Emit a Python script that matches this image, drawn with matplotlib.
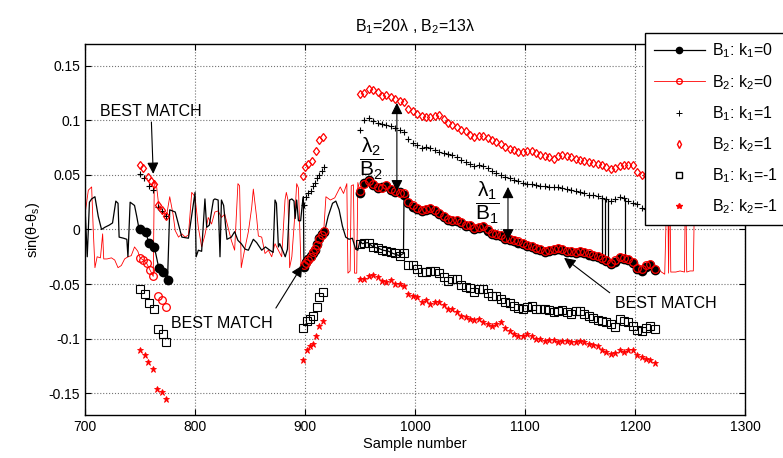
import numpy as np
import matplotlib.pyplot as plt
from matplotlib.lines import Line2D

plt.rcParams['font.family'] = ['Liberation Sans', 'DejaVu Sans']
plt.rcParams['mathtext.fontset'] = 'custom'
plt.rcParams['mathtext.rm'] = 'Liberation Sans'
plt.rcParams['mathtext.it'] = 'Liberation Sans:italic'
plt.rcParams['mathtext.bf'] = 'Liberation Sans:bold'
plt.rcParams['mathtext.default'] = 'regular'

# ---- main stretch (950..1218, every 4 samples) ----
s_main = list(range(950, 1219, 4))
b1_k0_main = [0.033, 0.043, 0.045, 0.041, 0.038, 0.039, 0.040, 0.036, 0.034, 0.034,
              0.032, 0.024, 0.021, 0.019, 0.017, 0.018, 0.019, 0.017, 0.014, 0.011,
              0.009, 0.008, 0.008, 0.006, 0.003, 0.003, 0.000, 0.001, 0.002, -0.001,
              -0.004, -0.005, -0.006, -0.009, -0.010, -0.011, -0.012, -0.013, -0.015, -0.016,
              -0.018, -0.019, -0.021, -0.020, -0.019, -0.018, -0.019, -0.021, -0.021, -0.022,
              -0.021, -0.022, -0.023, -0.024, -0.025, -0.027, -0.029, -0.032, -0.030, -0.026,
              -0.027, -0.028, -0.031, -0.036, -0.038, -0.034, -0.033, -0.037]
b2_k0_main = [0.035, 0.042, 0.044, 0.042, 0.039, 0.038, 0.041, 0.037, 0.035, 0.033,
              0.033, 0.025, 0.022, 0.020, 0.018, 0.019, 0.020, 0.018, 0.015, 0.012,
              0.010, 0.009, 0.009, 0.007, 0.004, 0.004, 0.001, 0.002, 0.003, 0.000,
              -0.003, -0.004, -0.005, -0.008, -0.009, -0.010, -0.011, -0.012, -0.014, -0.015,
              -0.017, -0.018, -0.020, -0.019, -0.018, -0.017, -0.018, -0.020, -0.020, -0.021,
              -0.020, -0.021, -0.022, -0.023, -0.024, -0.026, -0.028, -0.031, -0.028, -0.025,
              -0.026, -0.027, -0.030, -0.035, -0.036, -0.033, -0.032, -0.036]
b1_k1_main = [0.091, 0.100, 0.102, 0.099, 0.098, 0.097, 0.096, 0.095, 0.093, 0.091,
              0.089, 0.083, 0.079, 0.077, 0.075, 0.076, 0.075, 0.073, 0.071, 0.070,
              0.069, 0.068, 0.066, 0.064, 0.062, 0.060, 0.058, 0.059, 0.058, 0.056,
              0.054, 0.052, 0.050, 0.048, 0.047, 0.045, 0.044, 0.043, 0.042, 0.042,
              0.041, 0.040, 0.040, 0.039, 0.039, 0.039, 0.038, 0.037, 0.036, 0.035,
              0.034, 0.033, 0.032, 0.032, 0.031, 0.029, 0.028, 0.026, 0.028, 0.030,
              0.029, 0.026, 0.024, 0.023, 0.020, 0.019, 0.017, 0.014]
b2_k1_main = [0.124, 0.125, 0.129, 0.1275, 0.126, 0.122, 0.123, 0.121, 0.120, 0.118,
              0.117, 0.110, 0.1085, 0.106, 0.104, 0.103, 0.103, 0.104, 0.1045, 0.101,
              0.098, 0.096, 0.094, 0.091, 0.090, 0.087, 0.085, 0.086, 0.086, 0.084,
              0.082, 0.080, 0.078, 0.076, 0.074, 0.073, 0.071, 0.071, 0.072, 0.072,
              0.070, 0.068, 0.067, 0.066, 0.065, 0.067, 0.068, 0.067, 0.066, 0.065,
              0.064, 0.063, 0.062, 0.061, 0.060, 0.059, 0.057, 0.055, 0.056, 0.058,
              0.059, 0.059, 0.059, 0.053, 0.050, 0.050, 0.049, 0.047]
b1_km1_main = [-0.013, -0.012, -0.012, -0.016, -0.017, -0.019, -0.020, -0.021, -0.022, -0.024,
               -0.022, -0.033, -0.033, -0.036, -0.039, -0.039, -0.038, -0.038, -0.040, -0.044,
               -0.047, -0.045, -0.045, -0.051, -0.053, -0.054, -0.057, -0.055, -0.055, -0.058,
               -0.061, -0.061, -0.064, -0.066, -0.067, -0.070, -0.072, -0.073, -0.071, -0.070,
               -0.073, -0.073, -0.073, -0.074, -0.076, -0.075, -0.074, -0.076, -0.077, -0.075,
               -0.075, -0.077, -0.079, -0.081, -0.083, -0.084, -0.085, -0.087, -0.089, -0.082,
               -0.084, -0.085, -0.088, -0.092, -0.093, -0.090, -0.088, -0.091]
b2_km1_main = [-0.045, -0.045, -0.043, -0.042, -0.044, -0.047, -0.048, -0.046, -0.050, -0.050,
               -0.052, -0.059, -0.061, -0.062, -0.066, -0.065, -0.068, -0.066, -0.066, -0.069,
               -0.073, -0.073, -0.076, -0.079, -0.080, -0.082, -0.083, -0.082, -0.085, -0.087,
               -0.088, -0.087, -0.085, -0.090, -0.093, -0.096, -0.098, -0.098, -0.096, -0.098,
               -0.100, -0.100, -0.102, -0.101, -0.101, -0.103, -0.102, -0.102, -0.103, -0.103,
               -0.102, -0.103, -0.105, -0.106, -0.107, -0.110, -0.112, -0.114, -0.113, -0.110,
               -0.112, -0.110, -0.110, -0.115, -0.117, -0.119, -0.120, -0.122]

# ---- early clusters (around 750-775 and 898-917) ----
b1_k0_s1 = [750, 755, 758, 763, 767, 771, 775]
b1_k0_v1 = [0.0, -0.002, -0.012, -0.016, -0.035, -0.039, -0.046]
b2_k0_s1 = [750, 753, 756, 759, 762, 766, 770, 774]
b2_k0_v1 = [-0.026, -0.028, -0.031, -0.037, -0.043, -0.061, -0.065, -0.071]
clu2_s = [899, 901, 903, 905, 907, 909, 911, 913, 915, 917]
b1_k0_v2 = [-0.034, -0.030, -0.027, -0.024, -0.022, -0.019, -0.013, -0.008, -0.004, -0.002]
b2_k0_v2 = [-0.033, -0.031, -0.028, -0.025, -0.021, -0.018, -0.014, -0.009, -0.005, -0.001]
b1_k1_s1 = [750, 754, 758, 762, 766, 770, 774]
b1_k1_v1 = [0.051, 0.047, 0.040, 0.036, 0.021, 0.017, 0.012]
b1_k1_v2 = [0.022, 0.030, 0.033, 0.035, 0.040, 0.043, 0.047, 0.050, 0.054, 0.057]
b2_k1_s1 = [750, 753, 757, 760, 763, 766, 770, 774]
b2_k1_v1 = [0.059, 0.056, 0.048, 0.044, 0.042, 0.022, 0.018, 0.012]
b2_k1_s2 = [898, 900, 903, 906, 910, 913, 916]
b2_k1_v2 = [0.049, 0.057, 0.060, 0.063, 0.072, 0.082, 0.085]
b1_km1_s1 = [750, 754.5, 758, 762.7, 766.7, 770.6, 774]
b1_km1_v1 = [-0.055, -0.059, -0.067, -0.073, -0.091, -0.096, -0.103]
b1_km1_s2 = [898, 901.5, 904.5, 907, 910.6, 913, 916]
b1_km1_v2 = [-0.090, -0.084, -0.082, -0.079, -0.071, -0.062, -0.057]
b2_km1_s1 = [750, 754.5, 757.5, 762, 765.8, 769.7, 773.6]
b2_km1_v1 = [-0.110, -0.115, -0.121, -0.128, -0.146, -0.149, -0.155]
b2_km1_s2 = [898, 901.5, 904.5, 907, 910, 912.5, 916]
b2_km1_v2 = [-0.120, -0.110, -0.107, -0.105, -0.098, -0.088, -0.084]

# ---- raw estimate lines before the main stretch ----
b1_pre_s = [700, 702, 704, 706, 709, 712, 715, 718, 722, 725, 728, 730, 731, 735, 738, 739,
            741, 745, 747, 749] + b1_k0_s1 + \
           [777, 782, 788, 794, 798, 800, 801, 803, 806, 809, 810.6, 813, 816.7, 818, 821,
            822.7, 824, 826, 829, 833, 836, 839, 842, 845.5, 848.5, 853, 856, 860.6, 864,
            868, 871, 872.7, 874, 875.8, 877, 880, 882, 884, 886, 888, 890, 891, 892.4, 894,
            896, 897.6, 898.5] + clu2_s + \
           [918, 921, 925, 928, 931, 934, 937, 940, 943, 946, 948, 950, 952, 957, 962, 966,
            971, 976, 980, 986, 989.5]
b1_pre_v = [0.020, -0.025, 0.025, 0.028, 0.030, 0.012, 0.000, 0.002, 0.004, 0.006, 0.026,
            0.024, -0.007, -0.008, -0.009, -0.025, 0.025, 0.022, 0.012, 0.001] + b1_k0_v1 + \
           [0.018, 0.016, -0.007, -0.008, 0.020, 0.034, -0.025, -0.019, -0.020, 0.028, 0.002,
            0.004, 0.027, 0.028, 0.027, -0.025, 0.027, 0.022, -0.009, -0.007, -0.002, -0.010,
            -0.013, -0.018, -0.019, -0.009, -0.012, -0.019, -0.016, -0.019, -0.021, 0.027,
            0.024, -0.016, -0.013, -0.020, -0.025, -0.018, 0.027, 0.028, 0.026, 0.010, 0.027,
            0.008, 0.008, 0.024, 0.030] + b1_k0_v2 + \
           [-0.001, 0.012, 0.024, 0.026, 0.018, 0.003, -0.007, -0.009, -0.008, -0.018, -0.019,
            -0.010, -0.013, -0.012, -0.016, -0.017, -0.019, -0.020, -0.022, -0.024, -0.022]
b1_spike_s = [1170, 1173, 1175, 1191]
b1_spike_lo = [-0.027, -0.029, -0.029, -0.027]
b1_spike_hi = [0.029, 0.028, 0.028, 0.029]

b2_pre_s = [700, 703, 706, 707.5, 709, 711, 714, 716, 717, 720, 724, 727, 730, 733, 736,
            739, 742, 745, 748] + b2_k0_s1[:5] + \
           [763, 765, 767, 770, 774, 777, 780, 782, 785, 788, 791, 794, 797, 800, 803, 806,
            809, 812, 815, 818, 821, 824, 827, 830, 833, 836, 839, 840.5, 842, 845, 848.5,
            851.5, 853, 856, 857.6, 860.6, 863.6, 866.7, 869.7, 872.7, 875.8, 878.8, 881.8,
            883, 884.5, 886, 888, 891, 892.4, 894, 896.4] + clu2_s + \
           [919, 923, 927, 932, 935, 938, 939, 941, 942, 944, 945, 947, 948]
b2_pre_v = [0.014, 0.036, 0.039, -0.001, -0.035, -0.025, -0.026, -0.004, -0.027, -0.027,
            -0.026, -0.028, -0.035, -0.033, -0.027, -0.025, -0.024, -0.016, -0.020] + b2_k0_v1[:5] + \
           [0.045, 0.040, 0.022, 0.018, 0.012, 0.030, 0.014, -0.001, -0.007, -0.004, -0.007,
            -0.005, 0.034, 0.030, 0.002, -0.016, -0.005, 0.011, 0.005, 0.016, 0.017, 0.011,
            0.014, 0.002, -0.010, -0.019, 0.042, 0.040, -0.035, -0.019, -0.002, 0.020, 0.037,
            0.011, -0.006, -0.007, -0.022, -0.019, -0.025, -0.013, -0.019, -0.025, 0.027,
            0.034, 0.027, -0.035, -0.025, 0.017, 0.042, 0.038, -0.035] + b2_k0_v2 + \
           [0.030, 0.027, 0.029, 0.039, 0.033, 0.042, -0.040, -0.038, 0.040, 0.041, -0.040,
            -0.040, 0.043]
b2_tail_s = [1221, 1224, 1227, 1229.5, 1230.5, 1231.5, 1232.5, 1237, 1241, 1245, 1246,
             1247, 1250, 1253, 1254.5]
b2_tail_v = [-0.036, -0.039, -0.041, 0.06, -0.040, 0.06, -0.039, -0.039, -0.038, -0.039,
             0.06, -0.039, -0.038, -0.038, 0.06]

labels = ['B$_1$: k$_1$=0', 'B$_2$: k$_2$=0', 'B$_1$: k$_1$=1',
          'B$_2$: k$_2$=1', 'B$_1$: k$_1$=-1', 'B$_2$: k$_2$=-1']

fig = plt.figure(figsize=(7.83, 4.58), dpi=100)
ax = fig.add_axes([0.1086, 0.0939, 0.8429, 0.8101])

s_main_a = np.array(s_main)
after = s_main_a >= 990
b1_line_s = b1_pre_s + list(s_main_a[after])
b1_line_v = b1_pre_v + list(np.array(b1_k0_main)[after])
b2_line_s = b2_pre_s + s_main + b2_tail_s
b2_line_v = b2_pre_v + b2_k0_main + b2_tail_v

ax.plot(b2_line_s, b2_line_v, '-', color='red', lw=0.6)
ax.plot(b1_line_s, b1_line_v, '-', color='black', lw=0.9)
ax.vlines(b1_spike_s, b1_spike_lo, b1_spike_hi, color='black', lw=0.9)

ax.plot(b1_k1_s1 + clu2_s + s_main, b1_k1_v1 + b1_k1_v2 + b1_k1_main, '+',
        color='black', ms=4.5, mew=0.8, ls='none')
ax.plot(b2_k1_s1 + b2_k1_s2 + s_main, b2_k1_v1 + b2_k1_v2 + b2_k1_main, 'd',
        mfc='none', mec='red', ms=4.5, mew=0.9, ls='none')
ax.plot(b1_km1_s1 + b1_km1_s2 + s_main, b1_km1_v1 + b1_km1_v2 + b1_km1_main, 's',
        mfc='none', mec='black', ms=5.5, mew=0.8, ls='none')
ax.plot(b2_km1_s1 + b2_km1_s2 + s_main, b2_km1_v1 + b2_km1_v2 + b2_km1_main, '*',
        color='red', ms=4.5, mew=0.6, ls='none')
ax.plot(b1_k0_s1 + clu2_s + s_main, b1_k0_v1 + b1_k0_v2 + b1_k0_main, 'o',
        mfc='black', mec='black', ms=6, ls='none')
ax.plot(b2_k0_s1 + clu2_s + s_main, b2_k0_v1 + b2_k0_v2 + b2_k0_main, 'o',
        mfc='none', mec='red', ms=5.5, mew=0.9, ls='none')

ax.set_xlim(700, 1300)
ax.set_ylim(-0.17, 0.17)
ax.set_xticks(np.arange(700, 1301, 100))
yt = [-0.15, -0.1, -0.05, 0, 0.05, 0.1, 0.15]
ax.set_yticks(yt)
ax.set_yticklabels(['%g' % v for v in yt])
ax.tick_params(direction='in', top=True, right=True, length=4, labelsize=10)
ax.grid(True, linestyle=':', color='0.45', lw=0.8)
for sp in ax.spines.values():
    sp.set_linewidth(1.0)

ax.set_title('B$_1$=20λ , B$_2$=13λ', fontsize=11.5, pad=9)
ax.set_xlabel('Sample number', fontsize=10.5, labelpad=2)
ax.set_ylabel('sin(θ-θ$_s$)', fontsize=10.5, labelpad=5)

# annotations
arr = dict(arrowstyle='-|>', color='black', lw=0.8, mutation_scale=17, shrinkA=0, shrinkB=0)
ax.annotate('BEST MATCH', xy=(762, 0.051), xytext=(760, 0.101), ha='center', va='bottom',
            fontsize=11.5, arrowprops=arr)
ax.annotate('', xy=(897.5, -0.033), xytext=(873.5, -0.072), arrowprops=arr)
ax.text(824.5, -0.086, 'BEST MATCH', ha='center', va='center', fontsize=11.5)
ax.annotate('', xy=(1135.5, -0.026), xytext=(1177, -0.058), arrowprops=arr)
ax.text(1228, -0.068, 'BEST MATCH', ha='center', va='center', fontsize=11.5)
dbl = dict(arrowstyle='<|-|>', color='black', lw=0.8, mutation_scale=17, shrinkA=0, shrinkB=0)
ax.annotate('', xy=(983.5, 0.116), xytext=(983.5, 0.035), arrowprops=dbl)
ax.annotate('', xy=(1084.5, 0.039), xytext=(1084.5, -0.010), arrowprops=dbl)
ax.text(960, 0.065, r'$\dfrac{\lambda_2}{B_2}$', ha='center', va='center', fontsize=15)
ax.text(1065.5, 0.024, r'$\dfrac{\lambda_1}{B_1}$', ha='center', va='center', fontsize=15)

handles = [
    Line2D([], [], color='black', lw=0.9, marker='o', mfc='black', mec='black', ms=4.5),
    Line2D([], [], color='red', lw=0.6, marker='o', mfc='none', mec='red', ms=4),
    Line2D([], [], color='black', ls='none', marker='+', ms=4, mew=0.7),
    Line2D([], [], color='red', ls='none', marker='d', mfc='none', mec='red', ms=4),
    Line2D([], [], color='black', ls='none', marker='s', mfc='none', mec='black', ms=4.5),
    Line2D([], [], color='red', ls='none', marker='*', ms=4),
]
leg = ax.legend(handles, labels, loc='upper left', bbox_to_anchor=(645 / 783, 1 - 33 / 458),
                bbox_transform=fig.transFigure, fontsize=11.5, frameon=True, fancybox=False,
                framealpha=1, edgecolor='black', handlelength=3.2, handletextpad=0.45,
                labelspacing=0.78, borderpad=0.55, borderaxespad=0)
leg.get_frame().set_linewidth(1.0)

fig.savefig('out.png', dpi=100)
